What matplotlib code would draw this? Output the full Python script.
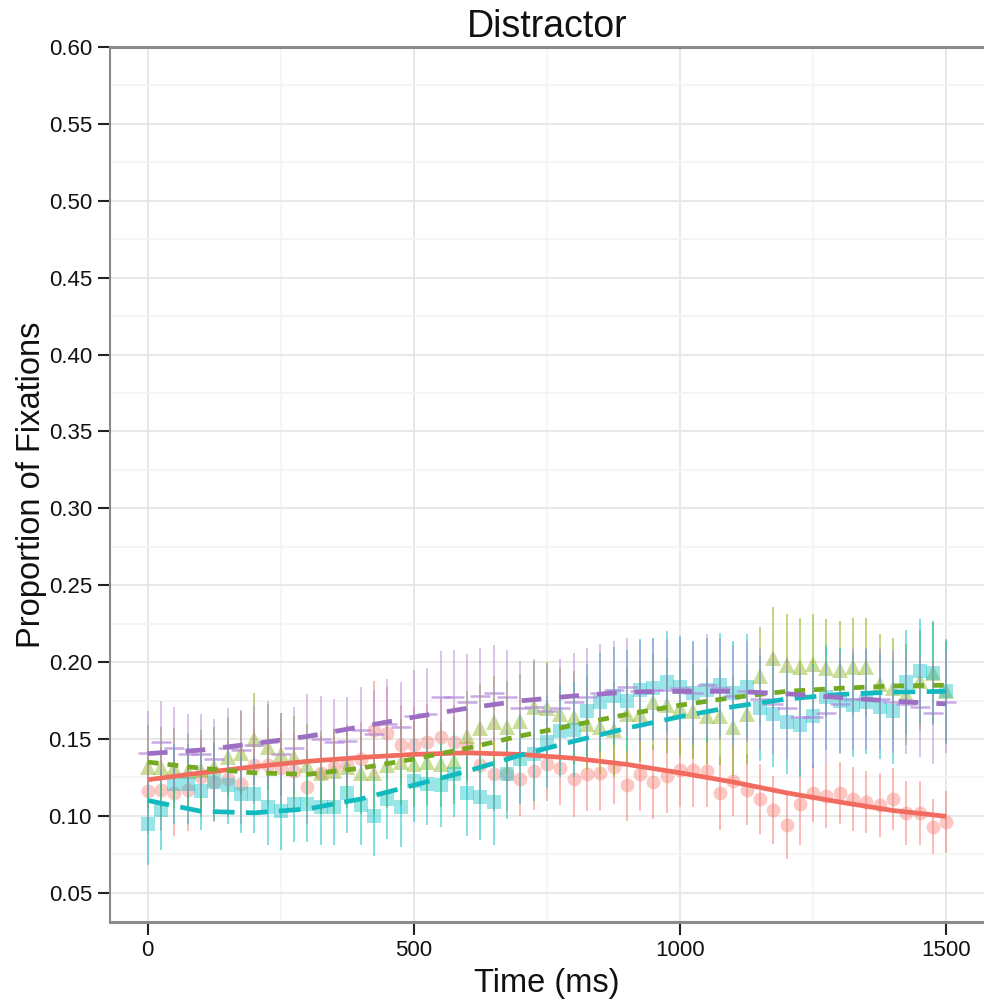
import matplotlib
matplotlib.use("Agg")
import matplotlib.pyplot as plt
from matplotlib.ticker import MultipleLocator, FixedLocator

plt.rcParams['font.family'] = ['Liberation Sans', 'DejaVu Sans']

# ---------------- data ----------------
time_ms = list(range(0, 1525, 25))

red_mean = [0.116, 0.117, 0.115, 0.117, 0.125, 0.122, 0.124, 0.121, 0.133, 0.133,
            0.131, 0.129, 0.119, 0.128, 0.132, 0.134, 0.137, 0.156, 0.154, 0.146,
            0.146, 0.148, 0.151, 0.148, 0.145, 0.133, 0.127, 0.127, 0.124, 0.129,
            0.134, 0.131, 0.124, 0.127, 0.128, 0.132, 0.120, 0.127, 0.122, 0.126,
            0.130, 0.130, 0.129, 0.115, 0.123, 0.117, 0.111, 0.104, 0.094, 0.108,
            0.115, 0.113, 0.115, 0.111, 0.109, 0.107, 0.111, 0.102, 0.102, 0.093, 0.096]
green_mean = [0.132, 0.132, 0.131, 0.129, 0.130, 0.132, 0.138, 0.141, 0.150, 0.145,
              0.140, 0.138, 0.133, 0.128, 0.129, 0.132, 0.128, 0.128, 0.133, 0.135,
              0.134, 0.135, 0.134, 0.136, 0.152, 0.157, 0.161, 0.158, 0.162, 0.171,
              0.170, 0.166, 0.164, 0.160, 0.158, 0.156, 0.166, 0.166, 0.174, 0.172,
              0.170, 0.168, 0.165, 0.165, 0.158, 0.166, 0.191, 0.203, 0.198, 0.197,
              0.199, 0.196, 0.195, 0.197, 0.197, 0.186, 0.183, 0.179, 0.188, 0.193, 0.181]
cyan_mean = [0.095, 0.104, 0.121, 0.121, 0.116, 0.122, 0.120, 0.114, 0.114, 0.106,
             0.103, 0.108, 0.108, 0.106, 0.106, 0.115, 0.107, 0.100, 0.111, 0.106,
             0.123, 0.121, 0.120, 0.127, 0.115, 0.112, 0.109, 0.127, 0.137, 0.140,
             0.148, 0.155, 0.156, 0.168, 0.174, 0.178, 0.175, 0.182, 0.183, 0.187,
             0.184, 0.180, 0.182, 0.185, 0.180, 0.184, 0.170, 0.166, 0.161, 0.159,
             0.165, 0.177, 0.175, 0.172, 0.174, 0.171, 0.168, 0.187, 0.194, 0.193, 0.181]
purple_mean = [0.141, 0.148, 0.144, 0.140, 0.140, 0.137, 0.144, 0.143, 0.146, 0.148,
               0.140, 0.144, 0.152, 0.150, 0.148, 0.149, 0.156, 0.153, 0.160, 0.158,
               0.165, 0.166, 0.177, 0.177, 0.174, 0.178, 0.180, 0.177, 0.170, 0.171,
               0.168, 0.170, 0.174, 0.177, 0.180, 0.182, 0.184, 0.181, 0.182, 0.182,
               0.183, 0.180, 0.185, 0.183, 0.178, 0.181, 0.176, 0.173, 0.170, 0.164,
               0.164, 0.167, 0.173, 0.176, 0.176, 0.176, 0.174, 0.173, 0.171, 0.167, 0.174]

red_se = [0.028, 0.027, 0.028, 0.027, 0.026, 0.026, 0.025, 0.026, 0.025, 0.025,
          0.024, 0.025, 0.024, 0.024, 0.025, 0.024, 0.024, 0.032, 0.030, 0.026,
          0.025, 0.025, 0.025, 0.024, 0.025, 0.025, 0.024, 0.024, 0.024, 0.025,
          0.024, 0.024, 0.025, 0.024, 0.024, 0.024, 0.023, 0.024, 0.024, 0.024,
          0.024, 0.024, 0.023, 0.024, 0.023, 0.023, 0.023, 0.022, 0.022, 0.027,
          0.019, 0.021, 0.020, 0.021, 0.020, 0.021, 0.020, 0.021, 0.021, 0.018, 0.020]
green_se = [0.027, 0.026, 0.026, 0.025, 0.026, 0.026, 0.026, 0.027, 0.030, 0.028,
            0.027, 0.027, 0.027, 0.027, 0.027, 0.027, 0.027, 0.027, 0.028, 0.028,
            0.028, 0.028, 0.028, 0.028, 0.029, 0.029, 0.030, 0.030, 0.030, 0.030,
            0.030, 0.030, 0.030, 0.030, 0.031, 0.031, 0.031, 0.031, 0.031, 0.031,
            0.031, 0.031, 0.031, 0.032, 0.032, 0.032, 0.032, 0.033, 0.033, 0.032,
            0.032, 0.032, 0.032, 0.032, 0.032, 0.032, 0.033, 0.033, 0.033, 0.033, 0.033]
cyan_se = [0.027, 0.026, 0.026, 0.026, 0.025, 0.025, 0.025, 0.025, 0.025, 0.025,
           0.025, 0.025, 0.025, 0.025, 0.025, 0.026, 0.026, 0.026, 0.026, 0.026,
           0.027, 0.027, 0.027, 0.028, 0.028, 0.028, 0.028, 0.029, 0.029, 0.030,
           0.030, 0.030, 0.031, 0.031, 0.032, 0.032, 0.033, 0.033, 0.033, 0.033,
           0.033, 0.034, 0.034, 0.034, 0.034, 0.034, 0.034, 0.034, 0.034, 0.034,
           0.034, 0.034, 0.034, 0.034, 0.034, 0.034, 0.034, 0.034, 0.034, 0.034, 0.034]
purple_se = [0.027, 0.027, 0.027, 0.026, 0.026, 0.026, 0.026, 0.026, 0.026, 0.027,
             0.027, 0.027, 0.027, 0.028, 0.028, 0.028, 0.028, 0.029, 0.029, 0.029,
             0.030, 0.030, 0.030, 0.031, 0.031, 0.031, 0.031, 0.031, 0.031, 0.031,
             0.031, 0.032, 0.032, 0.032, 0.032, 0.032, 0.032, 0.033, 0.033, 0.033,
             0.033, 0.033, 0.033, 0.033, 0.033, 0.033, 0.033, 0.033, 0.033, 0.033,
             0.033, 0.033, 0.033, 0.033, 0.033, 0.033, 0.033, 0.033, 0.033, 0.033, 0.033]

# fitted curves (model predictions)
fit_time = [0, 100, 200, 300, 400, 500, 600, 700, 800, 900, 1000, 1100, 1200, 1300, 1400, 1500]
red_fit = [0.1235, 0.128, 0.132, 0.1355, 0.138, 0.140, 0.141, 0.140, 0.1375, 0.1335,
           0.128, 0.122, 0.115, 0.109, 0.1035, 0.0997]
green_fit = [0.135, 0.131, 0.128, 0.127, 0.131, 0.137, 0.144, 0.152, 0.159, 0.166,
             0.172, 0.177, 0.181, 0.183, 0.1845, 0.185]
cyan_fit = [0.110, 0.103, 0.102, 0.1045, 0.111, 0.120, 0.129, 0.1395, 0.1485, 0.157,
            0.1645, 0.171, 0.176, 0.179, 0.1805, 0.181]
purple_fit = [0.1405, 0.1428, 0.147, 0.1517, 0.158, 0.1642, 0.170, 0.1748, 0.178, 0.1805,
              0.181, 0.181, 0.1794, 0.177, 0.1746, 0.1728]

x_ticks = [0, 500, 1000, 1500]
y_ticks = [0.05, 0.10, 0.15, 0.20, 0.25, 0.30, 0.35, 0.40, 0.45, 0.50, 0.55, 0.60]

# ---------------- figure ----------------
W, H = 984, 1005
fig = plt.figure(figsize=(W / 100, H / 100), dpi=100)
fig.patch.set_facecolor('white')
ax = fig.add_axes([110 / W, 1 - 922 / H, 1 - 110 / W, (922 - 47) / H])

series = [
    (red_mean, red_se, red_fit, '#F8766D', '#F26B5F', 'o', 10, (None, None)),
    (green_mean, green_se, green_fit, '#7CAE00', '#74AA22', '^', 12, (2.3, 1.9)),
    (cyan_mean, cyan_se, cyan_fit, '#00BFC4', '#12BAC0', 's', 10.5, (4.6, 2.4)),
    (purple_mean, purple_se, purple_fit, '#B487DA', '#9C6FC2', '_', 15, (4.2, 3.8)),
]

for mean, se, fit, col, lcol, mk, ms, dash in series:
    if mk == '_':
        ax.plot(time_ms, mean, linestyle='none', marker=mk, markersize=ms,
                markeredgewidth=1.8, color=col, alpha=0.7, zorder=3)
    else:
        ax.plot(time_ms, mean, linestyle='none', marker=mk, markersize=ms,
                markeredgewidth=0, color=col, alpha=0.4, zorder=3)
    ax.errorbar(time_ms, mean, yerr=se, fmt='none', ecolor=col, elinewidth=1.4,
                alpha=0.5, capsize=0, zorder=4)

for mean, se, fit, col, lcol, mk, ms, dash in series:
    if dash[0] is None:
        ax.plot(fit_time, fit, color=lcol, lw=3.4, solid_capstyle='butt', zorder=6)
    else:
        ax.plot(fit_time, fit, color=lcol, lw=3.4, dashes=dash,
                dash_capstyle='butt', zorder=6)

ax.set_xlim(-71, 1571)
ax.set_ylim(0.031, 0.60)
ax.xaxis.set_major_locator(FixedLocator(x_ticks))
ax.xaxis.set_minor_locator(FixedLocator([250, 750, 1250]))
ax.yaxis.set_major_locator(FixedLocator(y_ticks))
ax.yaxis.set_minor_locator(MultipleLocator(0.025))
ax.set_yticklabels([f"{v:.2f}" for v in y_ticks])
ax.set_xticklabels([str(v) for v in x_ticks])

ax.set_axisbelow(True)
ax.grid(which='major', color='#e6e6e6', lw=1.3)
ax.grid(which='minor', color='#f4f4f4', lw=1.3)

ax.tick_params(which='major', direction='out', length=9, width=1.5, color='#222222',
               labelsize=16, labelcolor='#111111', pad=4)
ax.tick_params(which='minor', length=0)

ax.spines['left'].set_color('#8a8a8a')
ax.spines['left'].set_linewidth(1.5)
for side in ['top', 'bottom']:
    ax.spines[side].set_color('#8a8a8a')
    ax.spines[side].set_linewidth(2.2)
ax.spines['right'].set_visible(False)

ax.set_title('Distractor', fontsize=27, pad=7, color='#111111')
ax.set_xlabel('Time (ms)', fontsize=23.5, color='#111111')
ax.set_ylabel('Proportion of Fixations', fontsize=23.5, color='#111111')
ax.xaxis.set_label_coords(0.5, -0.052)
ax.yaxis.set_label_coords(-0.072, 0.5)

fig.savefig('out.png', dpi=100, facecolor='white')
